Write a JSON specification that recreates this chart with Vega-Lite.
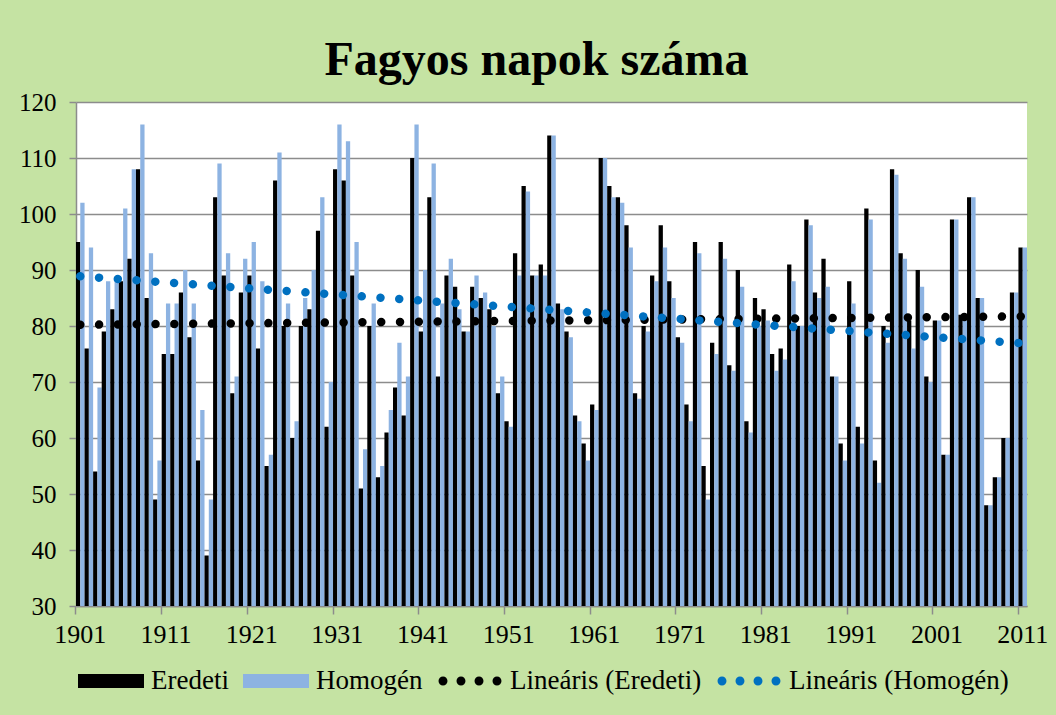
{
  "$schema": "https://vega.github.io/schema/vega-lite/v6.json",
  "width": 951,
  "height": 504,
  "autosize": {"type": "none"},
  "padding": {"left": 76, "top": 102, "right": 29, "bottom": 109},
  "background": "#c5e3a3",
  "title": {"text": "Fagyos napok száma", "font": "Liberation Serif", "fontSize": 48, "fontWeight": "bold", "color": "#000000", "anchor": "middle", "baseline": "alphabetic", "offset": 29, "dy": 62, "dx": -15},
  "config": {"view": {"fill": "#ffffff", "stroke": null}},
  "data": {"values": [
    {"year":1901,"Eredeti":95,"Homogén":102},{"year":1902,"Eredeti":76,"Homogén":94},{"year":1903,"Eredeti":54,"Homogén":69},{"year":1904,"Eredeti":79,"Homogén":88},{"year":1905,"Eredeti":83,"Homogén":88},
    {"year":1906,"Eredeti":88,"Homogén":101},{"year":1907,"Eredeti":92,"Homogén":108},{"year":1908,"Eredeti":108,"Homogén":116},{"year":1909,"Eredeti":85,"Homogén":93},{"year":1910,"Eredeti":49,"Homogén":56},
    {"year":1911,"Eredeti":75,"Homogén":84},{"year":1912,"Eredeti":75,"Homogén":84},{"year":1913,"Eredeti":86,"Homogén":90},{"year":1914,"Eredeti":78,"Homogén":84},{"year":1915,"Eredeti":56,"Homogén":65},
    {"year":1916,"Eredeti":39,"Homogén":49},{"year":1917,"Eredeti":103,"Homogén":109},{"year":1918,"Eredeti":89,"Homogén":93},{"year":1919,"Eredeti":68,"Homogén":71},{"year":1920,"Eredeti":86,"Homogén":92},
    {"year":1921,"Eredeti":89,"Homogén":95},{"year":1922,"Eredeti":76,"Homogén":88},{"year":1923,"Eredeti":55,"Homogén":57},{"year":1924,"Eredeti":106,"Homogén":111},{"year":1925,"Eredeti":80,"Homogén":84},
    {"year":1926,"Eredeti":60,"Homogén":63},{"year":1927,"Eredeti":80,"Homogén":85},{"year":1928,"Eredeti":83,"Homogén":90},{"year":1929,"Eredeti":97,"Homogén":103},{"year":1930,"Eredeti":62,"Homogén":70},
    {"year":1931,"Eredeti":108,"Homogén":116},{"year":1932,"Eredeti":106,"Homogén":113},{"year":1933,"Eredeti":89,"Homogén":95},{"year":1934,"Eredeti":51,"Homogén":58},{"year":1935,"Eredeti":80,"Homogén":84},
    {"year":1936,"Eredeti":53,"Homogén":55},{"year":1937,"Eredeti":61,"Homogén":65},{"year":1938,"Eredeti":69,"Homogén":77},{"year":1939,"Eredeti":64,"Homogén":71},{"year":1940,"Eredeti":110,"Homogén":116},
    {"year":1941,"Eredeti":79,"Homogén":90},{"year":1942,"Eredeti":103,"Homogén":109},{"year":1943,"Eredeti":71,"Homogén":84},{"year":1944,"Eredeti":89,"Homogén":92},{"year":1945,"Eredeti":87,"Homogén":83},
    {"year":1946,"Eredeti":79,"Homogén":79},{"year":1947,"Eredeti":87,"Homogén":89},{"year":1948,"Eredeti":85,"Homogén":86},{"year":1949,"Eredeti":83,"Homogén":80},{"year":1950,"Eredeti":68,"Homogén":71},
    {"year":1951,"Eredeti":63,"Homogén":62},{"year":1952,"Eredeti":93,"Homogén":89},{"year":1953,"Eredeti":105,"Homogén":104},{"year":1954,"Eredeti":89,"Homogén":89},{"year":1955,"Eredeti":91,"Homogén":89},
    {"year":1956,"Eredeti":114,"Homogén":114},{"year":1957,"Eredeti":84,"Homogén":83},{"year":1958,"Eredeti":79,"Homogén":78},{"year":1959,"Eredeti":64,"Homogén":63},{"year":1960,"Eredeti":59,"Homogén":56},
    {"year":1961,"Eredeti":66,"Homogén":65},{"year":1962,"Eredeti":110,"Homogén":110},{"year":1963,"Eredeti":105,"Homogén":103},{"year":1964,"Eredeti":103,"Homogén":102},{"year":1965,"Eredeti":98,"Homogén":94},
    {"year":1966,"Eredeti":68,"Homogén":67},{"year":1967,"Eredeti":80,"Homogén":79},{"year":1968,"Eredeti":89,"Homogén":88},{"year":1969,"Eredeti":98,"Homogén":94},{"year":1970,"Eredeti":88,"Homogén":85},
    {"year":1971,"Eredeti":78,"Homogén":77},{"year":1972,"Eredeti":66,"Homogén":63},{"year":1973,"Eredeti":95,"Homogén":93},{"year":1974,"Eredeti":55,"Homogén":49},{"year":1975,"Eredeti":77,"Homogén":75},
    {"year":1976,"Eredeti":95,"Homogén":92},{"year":1977,"Eredeti":73,"Homogén":72},{"year":1978,"Eredeti":90,"Homogén":87},{"year":1979,"Eredeti":63,"Homogén":61},{"year":1980,"Eredeti":85,"Homogén":80},
    {"year":1981,"Eredeti":83,"Homogén":81},{"year":1982,"Eredeti":75,"Homogén":72},{"year":1983,"Eredeti":76,"Homogén":74},{"year":1984,"Eredeti":91,"Homogén":88},{"year":1985,"Eredeti":80,"Homogén":80},
    {"year":1986,"Eredeti":99,"Homogén":98},{"year":1987,"Eredeti":86,"Homogén":85},{"year":1988,"Eredeti":92,"Homogén":87},{"year":1989,"Eredeti":71,"Homogén":71},{"year":1990,"Eredeti":59,"Homogén":56},
    {"year":1991,"Eredeti":88,"Homogén":84},{"year":1992,"Eredeti":62,"Homogén":59},{"year":1993,"Eredeti":101,"Homogén":99},{"year":1994,"Eredeti":56,"Homogén":52},{"year":1995,"Eredeti":80,"Homogén":77},
    {"year":1996,"Eredeti":108,"Homogén":107},{"year":1997,"Eredeti":93,"Homogén":92},{"year":1998,"Eredeti":81,"Homogén":76},{"year":1999,"Eredeti":90,"Homogén":87},{"year":2000,"Eredeti":71,"Homogén":70},
    {"year":2001,"Eredeti":81,"Homogén":81},{"year":2002,"Eredeti":57,"Homogén":57},{"year":2003,"Eredeti":99,"Homogén":99},{"year":2004,"Eredeti":82,"Homogén":81},{"year":2005,"Eredeti":103,"Homogén":103},
    {"year":2006,"Eredeti":85,"Homogén":85},{"year":2007,"Eredeti":48,"Homogén":48},{"year":2008,"Eredeti":53,"Homogén":53},{"year":2009,"Eredeti":60,"Homogén":60},{"year":2010,"Eredeti":86,"Homogén":86},
    {"year":2011,"Eredeti":94,"Homogén":94}
  ]},
  "layer": [
    {
      "transform": [{"fold": ["Eredeti", "Homogén"], "as": ["key", "value"]}],
      "mark": {"type": "bar", "clip": true},
      "encoding": {
        "x": {
          "field": "year", "type": "ordinal", "title": null,
          "scale": {"paddingInner": 0, "paddingOuter": 0},
          "axis": {
            "bandPosition": 0, "labelAngle": 0, "grid": false,
            "labelOverlap": false, "labelFlush": false, "labelBound": false,
            "labelExpr": "(datum.value - 1901) % 10 === 0 ? datum.label : ''",
            "tickOpacity": {"condition": {"test": "(datum.value - 1901) % 10 === 0", "value": 1}, "value": 0},
            "domainColor": "#8c8c8c", "domainWidth": 1.5, "tickColor": "#8c8c8c", "tickWidth": 1.5, "tickSize": 8,
            "labelFont": "Liberation Serif", "labelFontSize": 26, "labelColor": "#000000", "labelPadding": 7
          }
        },
        "xOffset": {"field": "key", "type": "nominal", "scale": {"domain": ["Eredeti", "Homogén"], "paddingInner": 0, "paddingOuter": 0}},
        "y": {
          "field": "value", "type": "quantitative", "title": null,
          "scale": {"domain": [30, 120], "zero": false, "nice": false},
          "axis": {
            "values": [30, 40, 50, 60, 70, 80, 90, 100, 110, 120],
            "grid": true, "gridColor": "#8c8c8c", "gridWidth": 1.5,
            "domainColor": "#8c8c8c", "domainWidth": 1.5, "tickColor": "#8c8c8c", "tickWidth": 1.5, "tickSize": 7,
            "labelFont": "Liberation Serif", "labelFontSize": 25, "labelColor": "#000000", "labelPadding": 13
          }
        },
        "color": {
          "field": "key", "type": "nominal",
          "scale": {"domain": ["Eredeti", "Homogén", "Lineáris (Eredeti)", "Lineáris (Homogén)"], "range": ["#000000", "#8db3e2", "#000000", "#0070c0"]},
          "legend": {
            "orient": "none", "legendX": 2, "legendY": 546, "direction": "horizontal", "columns": 4, "title": null,
            "labelFont": "Liberation Serif", "labelFontSize": 27, "labelColor": "#000000", "labelOffset": 7, "columnPadding": 14,
            "symbolSize": 4356, "labelLimit": 0, "padding": 0,
            "encode": {
              "symbols": {
                "update": {
                  "shape": [
                    {"test": "indexof(datum.value, 'Lin') === 0", "value": "M-0.954,0A0.136,0.136 0 1,0 -0.682,0A0.136,0.136 0 1,0 -0.954,0ZM-0.409,0A0.136,0.136 0 1,0 -0.137,0A0.136,0.136 0 1,0 -0.409,0ZM0.137,0A0.136,0.136 0 1,0 0.409,0A0.136,0.136 0 1,0 0.137,0ZM0.682,0A0.136,0.136 0 1,0 0.954,0A0.136,0.136 0 1,0 0.682,0Z"},
                    {"value": "M-1,-0.212H1V0.212H-1Z"}
                  ],
                  "fill": [
                    {"test": "datum.value === 'Homogén'", "value": "#8db3e2"},
                    {"test": "datum.value === 'Lineáris (Homogén)'", "value": "#0070c0"},
                    {"value": "#000000"}
                  ],
                  "stroke": {"value": "transparent"},
                  "strokeWidth": {"value": 0},
                  "opacity": {"value": 1},
                  "fillOpacity": {"value": 1}
                }
              }
            }
          }
        }
      }
    },
    {
      "transform": [{"regression": "Eredeti", "on": "year"}],
      "mark": {"type": "line", "strokeDash": [0.01, 18.8], "strokeCap": "round", "strokeWidth": 8.5},
      "encoding": {
        "x": {"field": "year", "type": "ordinal", "title": null},
        "y": {"field": "Eredeti", "type": "quantitative", "title": null},
        "color": {"datum": "Lineáris (Eredeti)"}
      }
    },
    {
      "transform": [{"regression": "Homogén", "on": "year"}],
      "mark": {"type": "line", "strokeDash": [0.01, 18.8], "strokeCap": "round", "strokeWidth": 8.5},
      "encoding": {
        "x": {"field": "year", "type": "ordinal", "title": null},
        "y": {"field": "Homogén", "type": "quantitative", "title": null},
        "color": {"datum": "Lineáris (Homogén)"}
      }
    }
  ]
}
